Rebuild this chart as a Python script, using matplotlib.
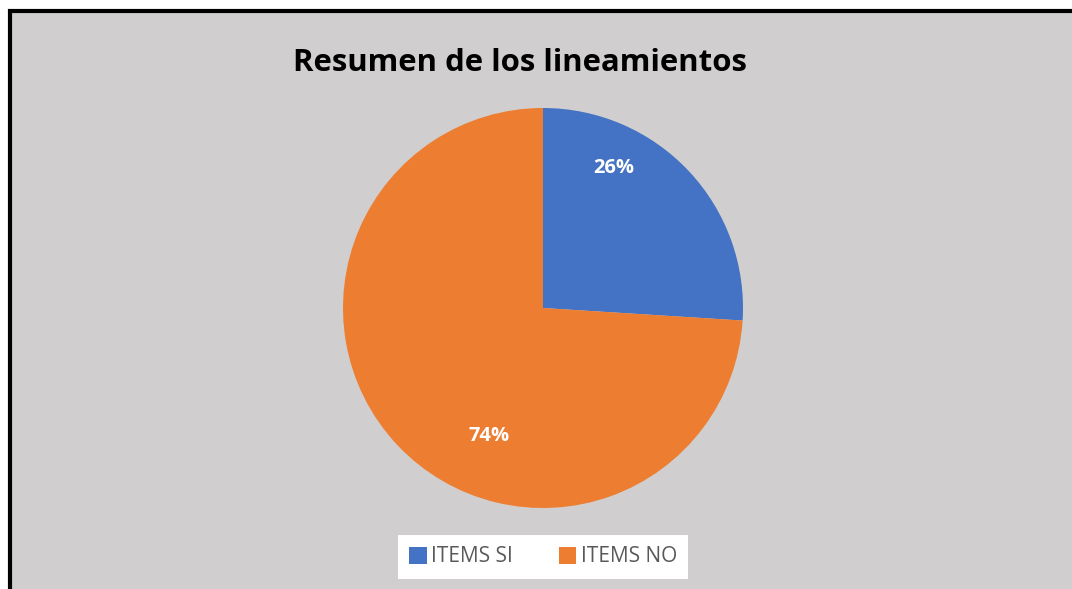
import matplotlib.pyplot as plt
from matplotlib.patches import Rectangle, Patch

labels = ["ITEMS SI", "ITEMS NO"]
values = [26, 74]
colors = ["#4472C4", "#ED7D31"]
title = "Resumen de los lineamientos"

W, H = 1072, 589
fig = plt.figure(figsize=(W / 100, H / 100), dpi=100)
fig.patch.set_facecolor("white")

# gray chart area with black frame (cut off on right/bottom)
fig.patches.append(Rectangle((10 / W, -0.1), 1.2, (H - 11) / H + 0.1,
                             transform=fig.transFigure, facecolor="#D0CECE",
                             edgecolor="black", linewidth=3, zorder=-5))

cx, cy, r = 543, 308, 200
ax = fig.add_axes([(cx - r) / W, (H - cy - r) / H, 2 * r / W, 2 * r / H])
ax.set_zorder(2)
ax.set_facecolor("none")
wedges, texts, autotexts = ax.pie(values, colors=colors, startangle=90,
                                  counterclock=False, autopct="%1.0f%%",
                                  wedgeprops=dict(linewidth=0),
                                  textprops=dict(color="white", fontsize=14.5,
                                                 fontweight="bold", family="Open Sans"))
ax.set_xlim(-1, 1)
ax.set_ylim(-1, 1)
ax.set_aspect("equal")
# Excel-like label placement
for t, (px, py) in zip(autotexts, [(614, 168), (489, 436)]):
    t.set_position(((px - cx) / r, (cy - py) / r))

fig.text(520 / W, 1 - 63 / H, title, ha="center", va="center",
         fontsize=22.4, fontweight="bold", family="Open Sans", zorder=3)

handles = [Patch(facecolor=c, edgecolor="none") for c in colors]
leg = fig.legend(handles, labels, loc="center", bbox_to_anchor=(543 / W, 1 - 557 / H),
                 ncol=2, frameon=True, fancybox=False, framealpha=1,
                 handlelength=0.85, handleheight=0.85,
                 handletextpad=0.2, columnspacing=2.2, borderpad=0.55,
                 prop=dict(family="Open Sans", size=15))
leg.set_zorder(3)
leg.get_frame().set_facecolor("white")
leg.get_frame().set_edgecolor("white")
leg.get_frame().set_linewidth(0)
for t in leg.get_texts():
    t.set_color("#595959")

fig.savefig("out.png", dpi=100)
